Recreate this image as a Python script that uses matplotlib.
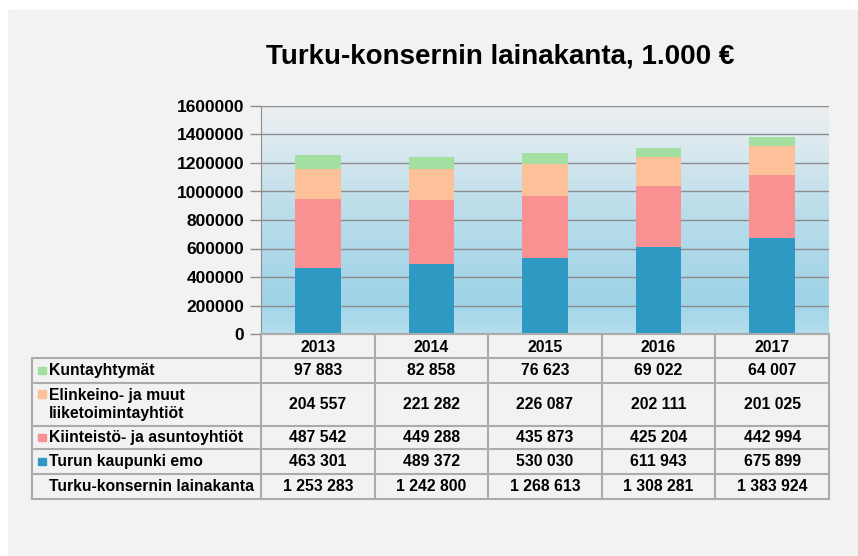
import numpy as np
import matplotlib.pyplot as plt
from matplotlib.colors import LinearSegmentedColormap
from matplotlib.patches import Rectangle

plt.rcParams['font.family'] = ['Liberation Sans', 'DejaVu Sans']

# data
years = ['2013', '2014', '2015', '2016', '2017']
kuntayhtymat = [97883, 82858, 76623, 69022, 64007]
elinkeino = [204557, 221282, 226087, 202111, 201025]
kiinteisto = [487542, 449288, 435873, 425204, 442994]
emo = [463301, 489372, 530030, 611943, 675899]
totals = [1253283, 1242800, 1268613, 1308281, 1383924]  # as printed (rounded)
row_labels = ['Kuntayhtymät', 'Elinkeino- ja muut\nliiketoimintayhtiöt',
              'Kiinteistö- ja asuntoyhtiöt', 'Turun kaupunki emo']
total_label = 'Turku-konsernin lainakanta'
title = 'Turku-konsernin lainakanta, 1.000 €'
colors = ['#a2dfa0', '#fdc19a', '#f99192', '#2e9ac4']

W, H = 858, 556
fig = plt.figure(figsize=(W / 100, H / 100), dpi=100, facecolor='white')
fig.add_artist(Rectangle((8 / W, 0), (W - 8) / W, (H - 10) / H,
                         transform=fig.transFigure, color='#f2f2f2', zorder=-10))

# plot area (pixel layout)
PL, PR, PT, PB = 261, 829, 106, 334
ax = fig.add_axes([PL / W, 1 - PB / H, (PR - PL) / W, (PB - PT) / H])
ax.set_xlim(-0.5, len(years) - 0.5)
ax.set_ylim(0, 1600000)

cmap = LinearSegmentedColormap.from_list('bg', [
    (0.0, '#b4deed'), (0.15, '#9fd3e7'), (0.55, '#bcdeeb'), (1.0, '#eef0f2')])
grad = np.linspace(0, 1, 256).reshape(-1, 1)
ax.imshow(grad, extent=[-0.5, len(years) - 0.5, 0, 1600000], aspect='auto',
          origin='lower', cmap=cmap, zorder=0)

series = [emo, kiinteisto, elinkeino, kuntayhtymat]
series_colors = colors[::-1]
x = np.arange(len(years))
bottom = np.zeros(len(years))
for vals, c in zip(series, series_colors):
    ax.bar(x, vals, width=0.4, bottom=bottom, color=c, zorder=2)
    bottom += np.array(vals)

ax.set_yticks(range(0, 1600001, 200000))
ax.set_yticklabels([str(v) for v in range(0, 1600001, 200000)],
                   fontsize=12.5, fontweight='bold')
ax.yaxis.grid(True, color='#8c8c8c', lw=1, zorder=1)
ax.set_xticks([])
ax.tick_params(axis='y', length=8, color='#8c8c8c', width=1, pad=4)
for s in ['top', 'right', 'bottom']:
    ax.spines[s].set_visible(False)
ax.spines['left'].set_color('#8c8c8c')

fig.text(500 / W, 1 - 57 / H, title, ha='center', va='center',
         fontsize=20, fontweight='bold')

# data table
tax = fig.add_axes([0, 0, 1, 1], facecolor='none')
tax.set_xlim(0, W)
tax.set_ylim(H, 0)
tax.axis('off')

lc = '#ababab'
col_x = np.linspace(PL, PR, len(years) + 1)
row_y = [358, 383, 426, 449, 474, 499]
tax.plot([PL, PR], [PB, PB], color=lc, lw=1.5)
for yy in row_y:
    tax.plot([32, PR], [yy, yy], color=lc, lw=1.5)
tax.plot([32, 32], [row_y[0], row_y[-1]], color=lc, lw=1.5)
for xx in col_x:
    tax.plot([xx, xx], [PB, row_y[-1]], color=lc, lw=1.5)

fs = 11.3
for i, yr in enumerate(years):
    tax.text((col_x[i] + col_x[i + 1]) / 2, (PB + row_y[0]) / 2 + 1, yr,
             ha='center', va='center', fontsize=fs, fontweight='bold')

table_rows = [kuntayhtymat, elinkeino, kiinteisto, emo]
for r, (lab, vals) in enumerate(zip(row_labels + [total_label], table_rows + [totals])):
    y0, y1 = row_y[r], row_y[r + 1]
    yc = (y0 + y1) / 2
    tax.text(49, yc, lab, ha='left', va='center', fontsize=fs,
             fontweight='bold', linespacing=1.25)
    if r < len(colors):
        sq_y = yc if '\n' not in lab else y0 + 11
        tax.add_patch(Rectangle((38, sq_y - 4), 7.5, 7.5, color=colors[r]))
    for i, v in enumerate(vals):
        tax.text((col_x[i] + col_x[i + 1]) / 2, yc, f'{v:,}'.replace(',', ' '),
                 ha='center', va='center', fontsize=fs, fontweight='bold')

fig.savefig('out.png', dpi=100, facecolor=fig.get_facecolor())
